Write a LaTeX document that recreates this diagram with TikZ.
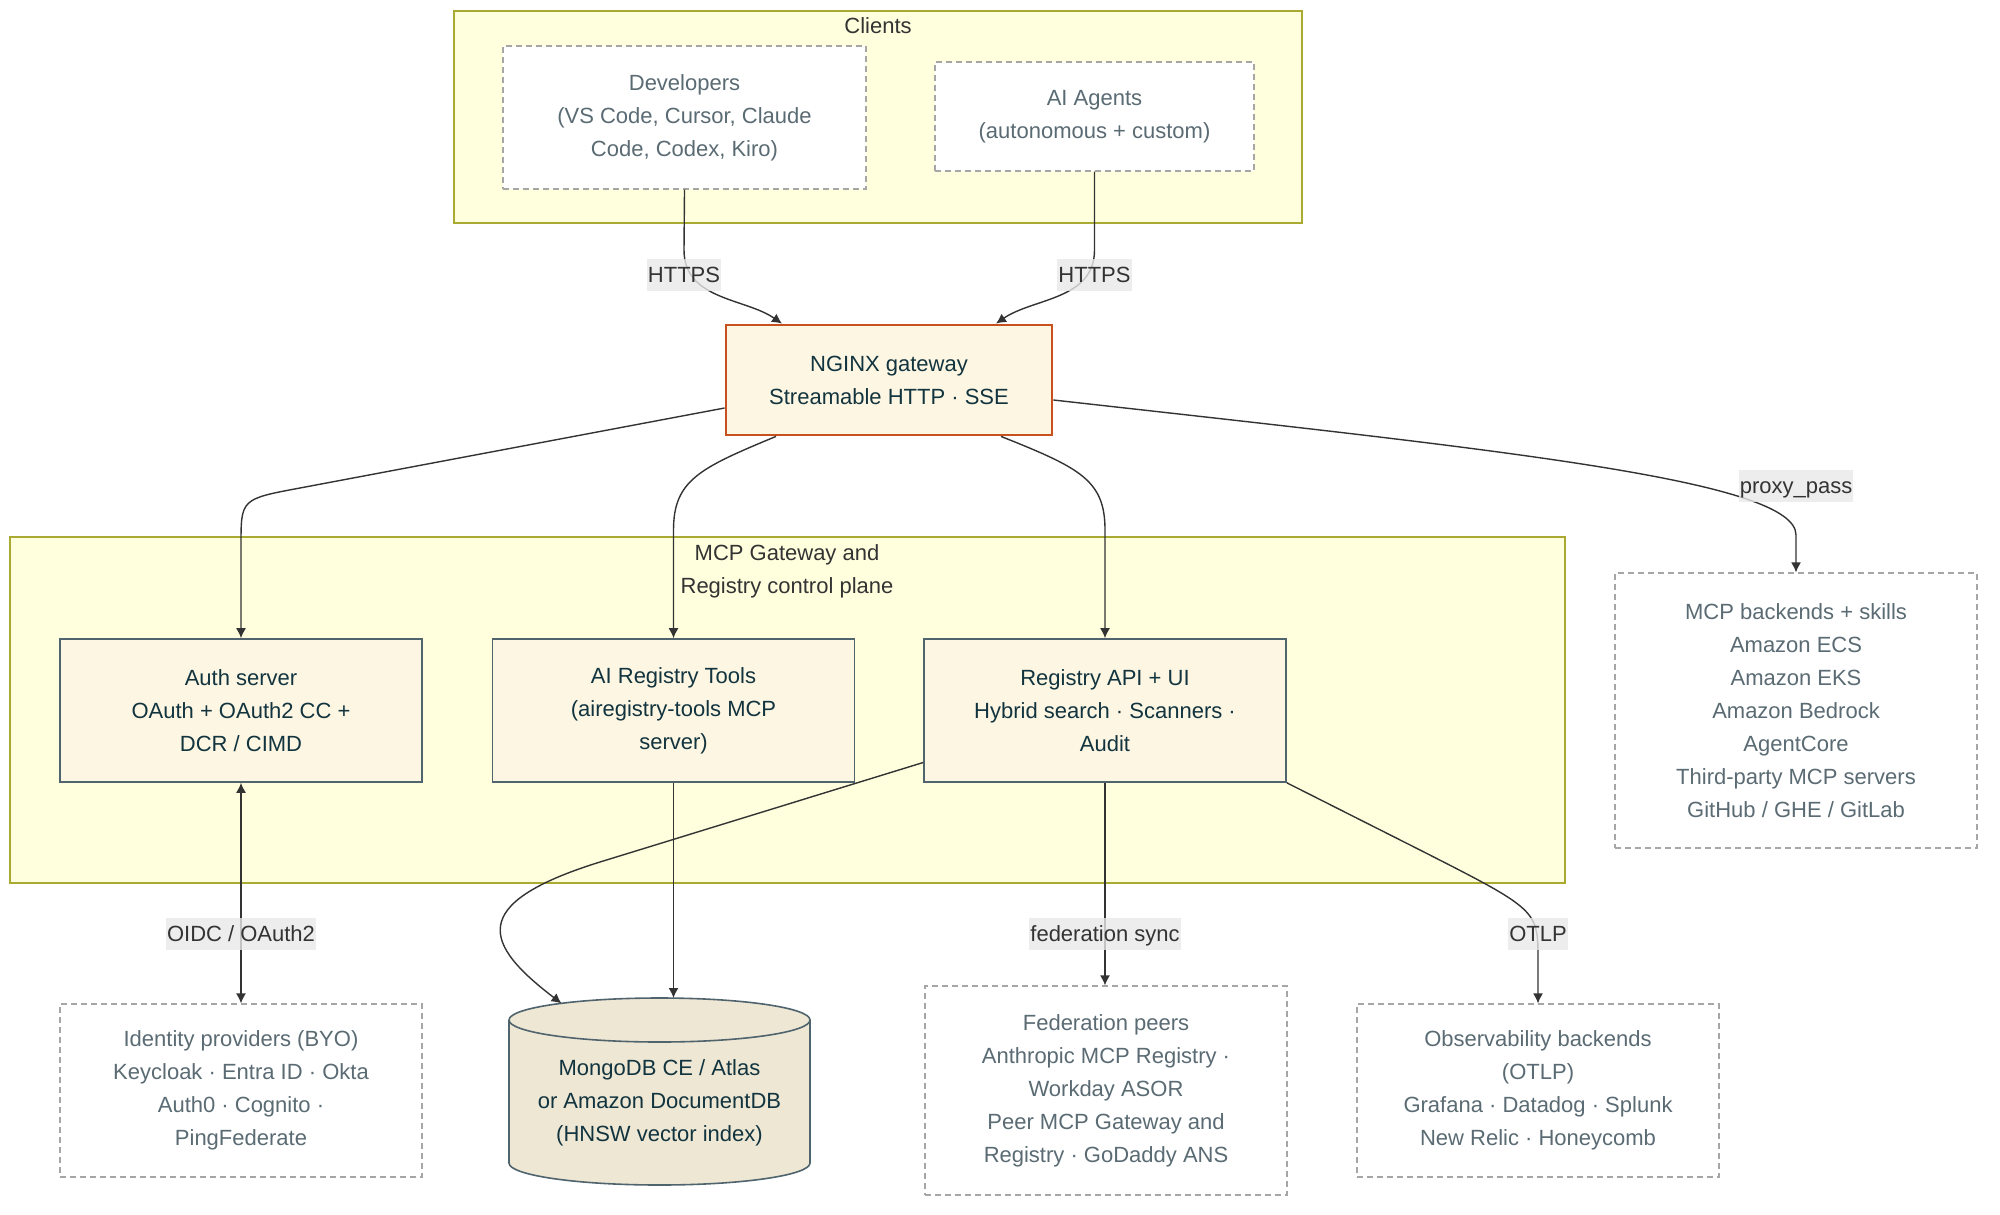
\documentclass[tikz,border=0pt]{standalone}
\usepackage{fontspec}
\setmainfont{Liberation Sans}
\usepackage{tikz}
\usetikzlibrary{arrows.meta, positioning, shapes.geometric, calc}
\definecolor{ClusterFill}{HTML}{FFFFDE}
\definecolor{ClusterLine}{HTML}{AAAA33}
\definecolor{NodeFill}{HTML}{FDF6E3}
\definecolor{NodeLine}{HTML}{50646E}
\definecolor{NodeText}{HTML}{12343F}
\definecolor{GateLine}{HTML}{C8501E}
\definecolor{ExtLine}{HTML}{A6A6A6}
\definecolor{ExtText}{HTML}{5A6B73}
\definecolor{DbFill}{HTML}{EEE7D4}
\definecolor{EdgeGray}{HTML}{333333}
\definecolor{LabelGray}{HTML}{E8E8E8}

\begin{document}
\begin{tikzpicture}[
  x=0.5pt, y=-0.5pt,
  font=\fontsize{11}{16.5}\selectfont,
  cluster/.style={draw=ClusterLine, fill=ClusterFill, line width=0.8pt, inner sep=0pt},
  ctitle/.style={text=EdgeGray, align=center},
  svc/.style={draw=NodeLine, fill=NodeFill, line width=0.8pt, text=NodeText, align=center, minimum width=181pt, minimum height=71.5pt, inner sep=0pt},
  gate/.style={svc, draw=GateLine, line width=1.4pt, minimum width=163pt, minimum height=55pt},
  ext/.style={draw=ExtLine, fill=white, line width=0.6pt, dash pattern=on 3pt off 2pt, text=ExtText, align=center, minimum width=181pt, inner sep=0pt},
  dbwall/.style={draw=NodeLine, fill=DbFill, line width=0.8pt},
  dbtext/.style={text=NodeText, align=center, inner sep=0pt},
  lbl/.style={fill=LabelGray, fill opacity=0.8, text opacity=1, text=EdgeGray, inner xsep=0.5pt, inner ysep=0pt, text height=11.5pt, text depth=4.5pt},
  arr/.style={-{Latex[length=5pt,width=5pt]}, draw=EdgeGray, line width=0.7pt},
  arr2/.style={{Latex[length=5pt,width=5pt]}-{Latex[length=5pt,width=5pt]}, draw=EdgeGray, line width=0.7pt}
]
  \useasboundingbox (0,0) rectangle (2000,1214);

  % Clients (top group)
  \node[cluster, minimum width=424pt, minimum height=106pt] (clients) at (878,117) {};
  \node[ctitle] (clientsT) at (878,26) {Clients};
  \node[ext, minimum width=181.5pt, minimum height=71.5pt] (dev) at (684.5,117.5) {Developers\\(VS Code, Cursor, Claude\\Code, Codex, Kiro)};
  \node[ext, minimum width=159.5pt, minimum height=54.5pt] (agents) at (1094.5,116.5) {AI Agents\\(autonomous + custom)};

  % Gateway
  \node[gate] (gw) at (889,380) {NGINX gateway\\Streamable HTTP · SSE};

  % Control plane group
  \node[cluster, minimum width=777.5pt, minimum height=173pt] (plane) at (787.5,710) {};
  \node[ctitle] (planeT) at (787,571) {MCP Gateway and\\Registry control plane};
  \node[svc] (auth) at (241,710.5) {Auth server\\OAuth + OAuth2 CC +\\DCR / CIMD};
  \node[svc] (airt) at (673.5,710.5) {AI Registry Tools\\(airegistry-tools MCP\\server)};
  \node[svc] (reg) at (1105,710.5) {Registry API + UI\\Hybrid search · Scanners ·\\Audit};

  % External systems
  \node[ext, minimum height=137.5pt] (mcp) at (1796,710.5) {MCP backends + skills\\Amazon ECS\\Amazon EKS\\Amazon Bedrock\\AgentCore\\Third-party MCP servers\\GitHub / GHE / GitLab};
  \node[ext, minimum height=86.5pt] (idp) at (241,1090.5) {Identity providers (BYO)\\Keycloak · Entra ID · Okta\\Auth0 · Cognito ·\\PingFederate};
  \node[ext, minimum height=104.5pt] (fed) at (1106,1090.5) {Federation peers\\Anthropic MCP Registry ·\\Workday ASOR\\Peer MCP Gateway and\\Registry · GoDaddy ANS};
  \node[ext, minimum height=86.5pt] (obs) at (1538,1090.5) {Observability backends\\(OTLP)\\Grafana · Datadog · Splunk\\New Relic · Honeycomb};

  % Document store (cylinder)
  \draw[dbwall] (509,1020) -- (509,1163) arc[start angle=180, end angle=360, x radius=75.25pt, y radius=11pt]
    -- (810,1020) arc[start angle=0, end angle=180, x radius=75.25pt, y radius=11pt] -- cycle;
  \draw[dbwall, fill=none] (509,1020) arc[start angle=180, end angle=360, x radius=75.25pt, y radius=11pt];
  \coordinate (dbtop) at (659.5,998);
  \node[dbtext] (db) at (659.5,1103) {MongoDB CE / Atlas\\or Amazon DocumentDB\\(HNSW vector index)};

  % Client traffic
  \draw[arr] (dev.south) -- (684,250) .. controls (684,300) and (745,298) .. ([xshift=-53.5pt]gw.north);
  \draw[arr] (agents.south) -- (1094.5,250) .. controls (1094.5,300) and (1033,298) .. ([xshift=53.5pt]gw.north);
  \node[lbl] (httpsA) at (684,275) {HTTPS};
  \node[lbl] (httpsB) at (1094.5,275) {HTTPS};

  % Gateway fan-out
  \draw[arr] ([yshift=-14pt]gw.west) -- (300,488) .. controls (241,499) .. (241,545) -- (auth.north);
  \draw[arr] ([xshift=-56.5pt]gw.south) .. controls (700,468) and (673.5,480) .. (673.5,530) -- (airt.north);
  \draw[arr] ([xshift=56pt]gw.south) .. controls (1080,468) and (1105,480) .. (1105,530) -- (reg.north);
  \draw[arr] ([yshift=-10pt]gw.east) .. controls (1500,450) and (1796,480) .. (1796,535) -- (mcp.north);
  \node[lbl] (proxy) at (1796,486) {proxy\_pass};

  % Downstream links
  \draw[arr2] (auth.south) -- (idp.north);
  \node[lbl] (oidc) at (241,934) {OIDC / OAuth2};
  \draw[arr] (airt.south) -- (airt.south |- dbtop);
  \draw[arr] ([yshift=-26pt]reg.west) -- (600,862) .. controls (465,904) and (485,945) .. ([xshift=-49pt,yshift=-2.7pt]dbtop);
  \draw[arr] (reg.south) -- (reg.south |- fed.north);
  \node[lbl] (sync) at (1105,934) {federation sync};
  \draw[arr] (reg.south east) -- (1420,850) .. controls (1538,910) .. (1538,960) -- (obs.north);
  \node[lbl] (otlp) at (1538,934) {OTLP};
\end{tikzpicture}
\end{document}
